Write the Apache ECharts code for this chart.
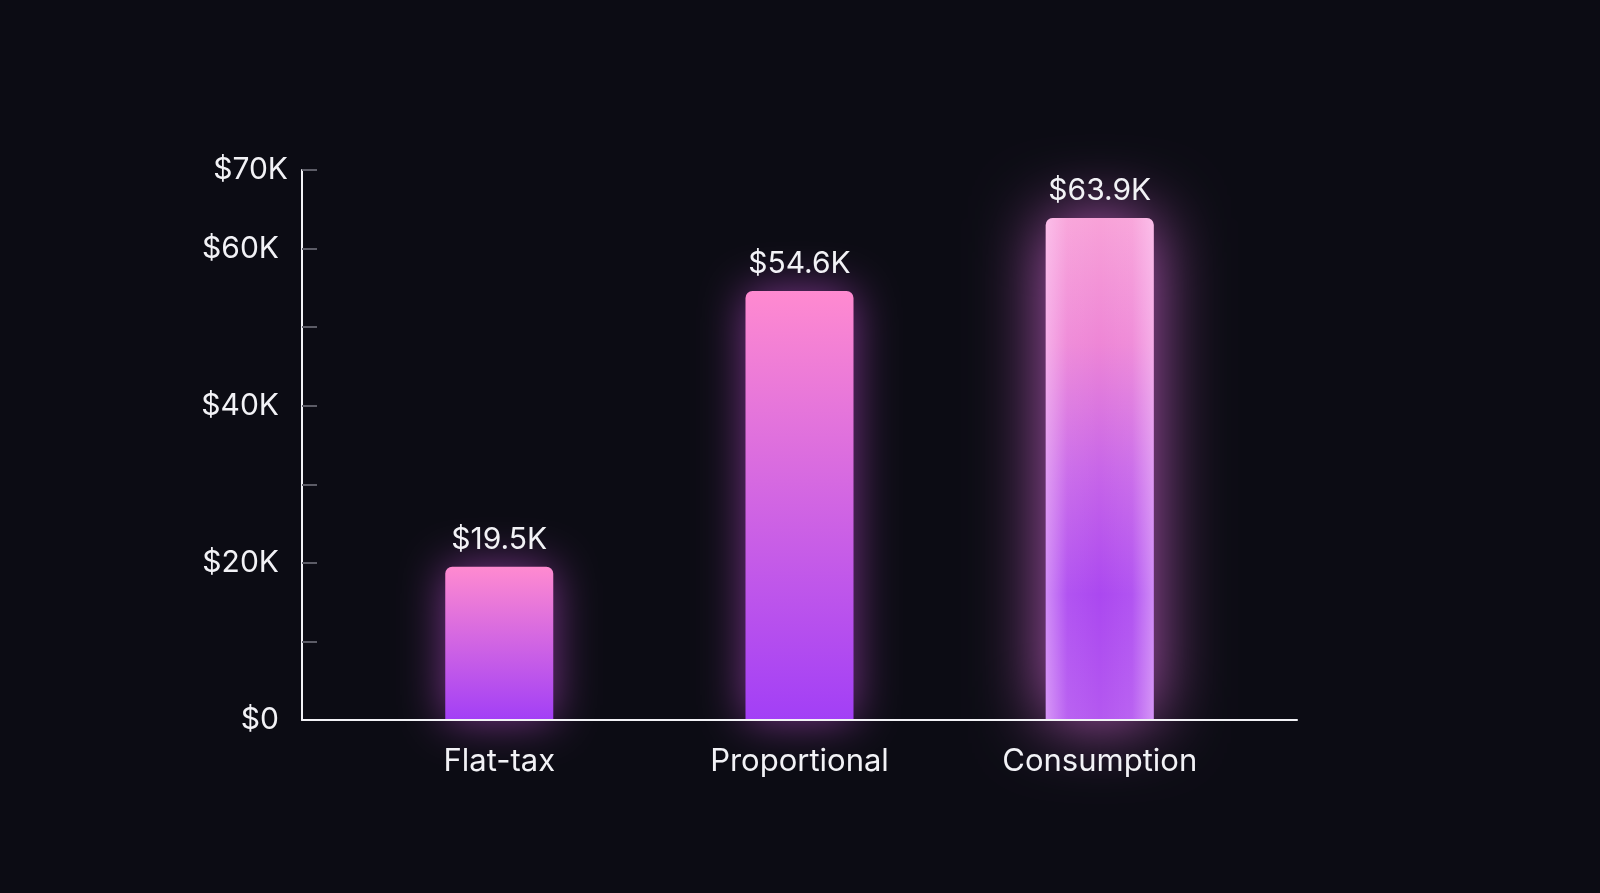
<!DOCTYPE html>
<html>
<head>
<meta charset="utf-8">
<script src="https://cdn.jsdelivr.net/npm/echarts@6/dist/echarts.min.js"></script>
<style>
html,body{margin:0;padding:0;background:#0c0c14;}
#chart{width:1600px;height:893px;}
</style>
</head>
<body>
<div id="chart"></div>
<script>
const categories = ['Flat-tax', 'Proportional', 'Consumption'];
const values = [19500, 54600, 63900];
const valueLabels = ['$19.5K', '$54.6K', '$63.9K'];
const yTickLabels = {0: '$0', 20000: '$20K', 40000: '$40K', 60000: '$60K', 70000: '$70K'};
const highlightIndex = 2;

const chart = echarts.init(document.getElementById('chart'));
const FONT = 'Inter';

function grad(stops) {
  return new echarts.graphic.LinearGradient(0, 0, 0, 1,
    stops.map((c, i) => ({offset: i / (stops.length - 1), color: c})));
}

const mainData = values.map((v, i) => {
  const item = {value: [i, v]};
  if (i === highlightIndex) {
    item.itemStyle = {
      color: grad(['#f8a2d8', '#ee86d6', '#c866e8', '#ab48f0', '#b458f0']),
      shadowBlur: 70,
      shadowColor: 'rgba(230,110,230,0.8)'
    };
  }
  return item;
});

const frostData = values.map((v, i) => i === highlightIndex ? {value: [i, v]} : '-');

chart.setOption({
  backgroundColor: '#0c0c14',
  animation: false,
  grid: {left: 302, right: 303, top: 170, bottom: 173, containLabel: false},
  xAxis: {
    type: 'value',
    z: 5,
    min: -0.657,
    max: 2.657,
    splitLine: {show: false},
    axisLine: {show: true, onZero: false, lineStyle: {color: '#f2f2f6', width: 2}},
    axisTick: {show: false},
    axisLabel: {
      customValues: [0, 1, 2],
      formatter: v => categories[Math.round(v)],
      color: '#f2f2f6',
      fontFamily: FONT,
      fontSize: 31,
      margin: 26
    }
  },
  yAxis: {
    type: 'value',
    min: 0,
    max: 70000,
    interval: 10000,
    splitLine: {show: false},
    axisLine: {show: true, onZero: false, lineStyle: {color: '#f2f2f6', width: 2}},
    axisTick: {show: true, inside: true, length: 15, lineStyle: {color: '#5c5c66', width: 2}},
    axisLabel: {
      color: '#f2f2f6',
      fontFamily: FONT,
      fontSize: 30,
      margin: 14,
      formatter: v => {
        const t = yTickLabels[v];
        if (!t) return '';
        return v === 70000 ? '{top|' + t + '}' : '{n|' + t + '}';
      },
      rich: {
        top: {color: '#f2f2f6', fontFamily: FONT, fontSize: 30},
        n: {color: '#f2f2f6', fontFamily: FONT, fontSize: 30, padding: [0, 9, 0, 0]}
      }
    }
  },
  series: [{
    type: 'bar',
    barWidth: 108,
    barGap: '-100%',
    data: mainData,
    itemStyle: {
      color: grad(['#ff8ad0', '#a23ff6']),
      borderRadius: [7, 7, 0, 0],
      shadowBlur: 45,
      shadowColor: 'rgba(200,80,220,0.6)'
    },
    label: {
      show: true,
      position: 'top',
      distance: 12,
      color: '#f2f2f6',
      fontFamily: FONT,
      fontSize: 30,
      formatter: p => valueLabels[p.dataIndex]
    }
  }, {
    type: 'bar',
    barWidth: 108,
    barGap: '-100%',
    silent: true,
    data: frostData,
    itemStyle: {
      borderRadius: [7, 7, 0, 0],
      color: new echarts.graphic.LinearGradient(0, 0, 1, 0, [
        {offset: 0, color: 'rgba(255,225,255,0.45)'},
        {offset: 0.2, color: 'rgba(255,225,255,0.08)'},
        {offset: 0.5, color: 'rgba(255,225,255,0)'},
        {offset: 0.8, color: 'rgba(255,225,255,0.08)'},
        {offset: 1, color: 'rgba(255,225,255,0.45)'}
      ])
    },
    label: {show: false}
  }]
});
</script>
</body>
</html>
